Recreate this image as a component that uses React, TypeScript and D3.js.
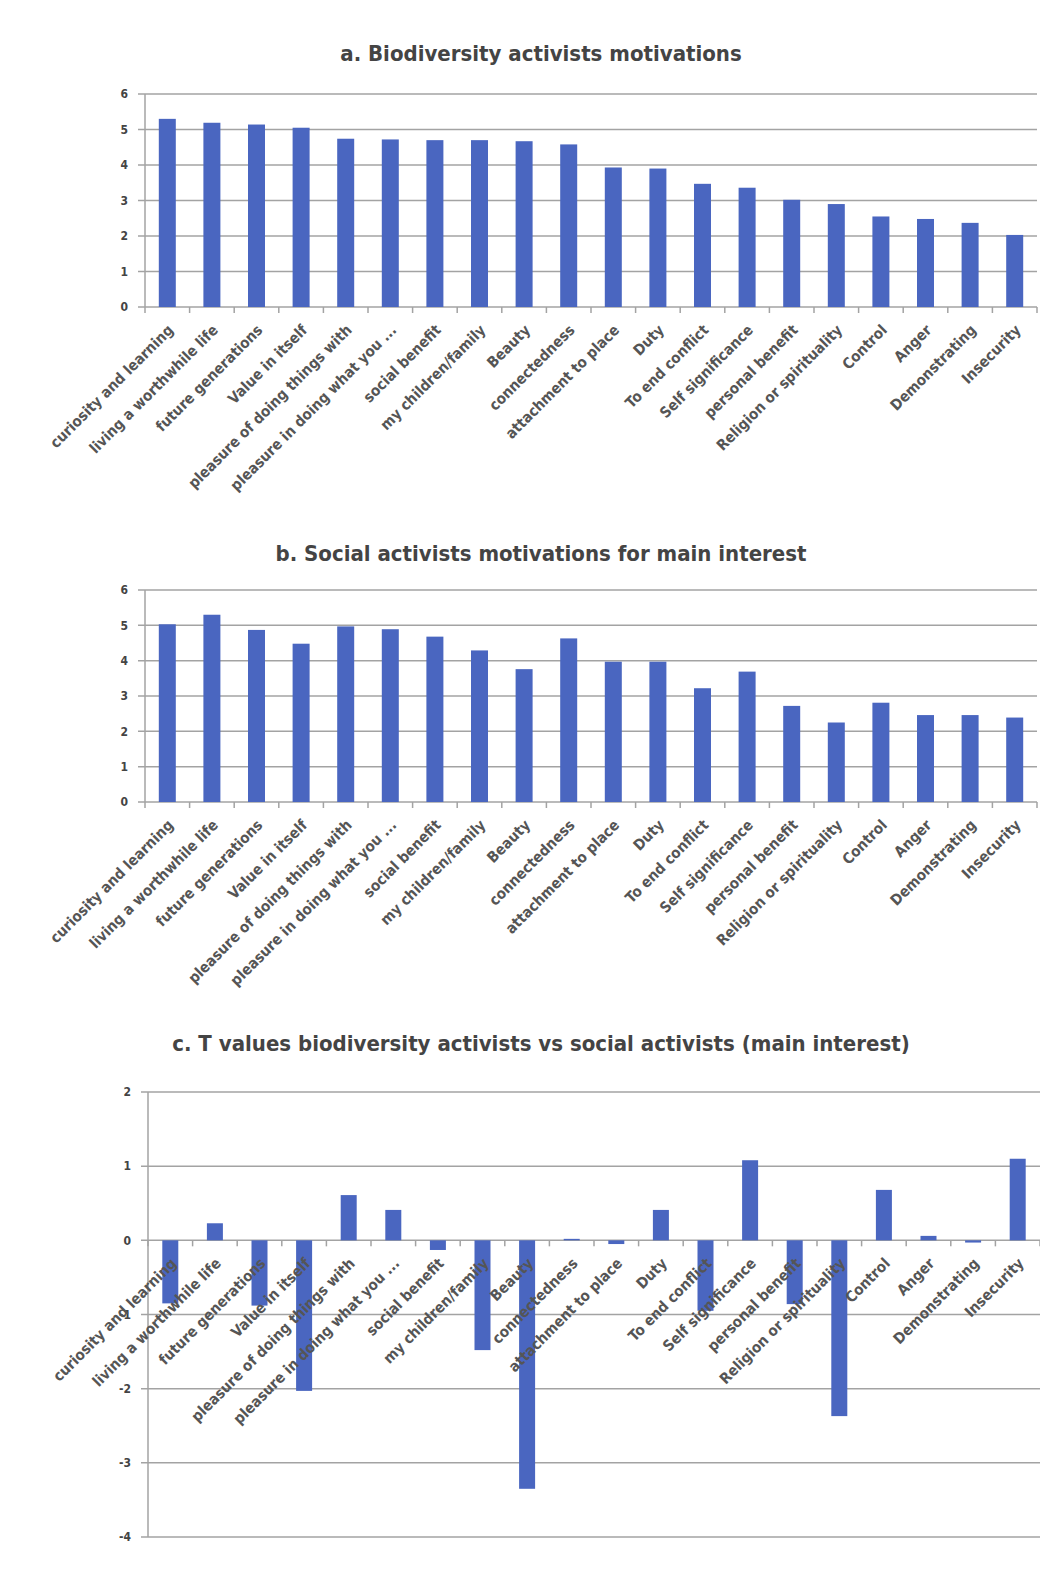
import * as d3 from "d3";
import { useEffect, useRef } from "react";

const categories = [
    "curiosity and learning",
    "living a worthwhile life",
    "future generations",
    "Value in itself",
    "pleasure of doing things with",
    "pleasure in doing what you ...",
    "social benefit",
    "my children/family",
    "Beauty",
    "connectedness",
    "attachment to place",
    "Duty",
    "To end conflict",
    "Self significance",
    "personal benefit",
    "Religion or spirituality",
    "Control",
    "Anger",
    "Demonstrating",
    "Insecurity",
];

// a. Biodiversity activists motivations
const biodiversityValues = [5.30, 5.19, 5.14, 5.05, 4.74, 4.72, 4.70, 4.70, 4.67, 4.58, 3.93, 3.90, 3.47, 3.36, 3.02, 2.90, 2.55, 2.48, 2.37, 2.03];
// b. Social activists motivations for main interest
const socialValues = [5.03, 5.30, 4.87, 4.48, 4.97, 4.89, 4.68, 4.29, 3.76, 4.63, 3.97, 3.97, 3.22, 3.69, 2.72, 2.25, 2.81, 2.46, 2.46, 2.39];
// c. T values biodiversity vs social
const tValues = [-0.85, 0.23, -0.88, -2.03, 0.61, 0.41, -0.13, -1.48, -3.35, 0.02, -0.05, 0.41, -0.95, 1.08, -0.86, -2.37, 0.68, 0.06, -0.03, 1.10];

const motivationTicks = [0, 1, 2, 3, 4, 5, 6];
const tTicks = [-4, -3, -2, -1, 0, 1, 2];

const titles = [
    "a. Biodiversity activists motivations",
    "b. Social activists motivations for main interest",
    "c. T values biodiversity activists vs social activists (main interest)",
];

const barColor = "#4a66c0";
const gridColor = "#a3a3a3";
const textColor = "#555555";
const narrowFont = '"Liberation Sans Narrow", "DejaVu Sans Condensed", "Liberation Sans", sans-serif';

type Panel = {
    title: string,
    titleY: number,
    values: number[],
    ticks: number[],
    top: number,
    bottom: number,
    left: number,
    right: number,
    barWidth: number,
}

function drawPanel(svg: d3.Selection<SVGSVGElement, unknown, null, undefined>, p: Panel) {
    const g = svg.append("g");
    const plotWidth = 892;

    const xScale = d3.scaleBand<string>().domain(categories).range([p.left, p.left + plotWidth]).padding(0);
    const yScale = d3.scaleLinear()
        .domain([d3.min(p.ticks)!, d3.max(p.ticks)!])
        .range([p.bottom, p.top]);
    const zeroY = yScale(0);

    // title
    g.append("text")
        .attr("x", 541)
        .attr("y", p.titleY)
        .attr("text-anchor", "middle")
        .style("font-family", narrowFont)
        .style("font-weight", "bold")
        .style("font-size", "22px")
        .style("fill", "#444")
        .text(p.title);

    // gridlines
    g.selectAll(".grid")
        .data(p.ticks)
        .enter()
        .append("line")
        .attr("x1", p.left - 7)
        .attr("x2", p.right)
        .attr("y1", d => yScale(d))
        .attr("y2", d => yScale(d))
        .style("stroke", gridColor)
        .style("stroke-width", 1.5);

    // y tick labels
    g.selectAll(".ylab")
        .data(p.ticks)
        .enter()
        .append("text")
        .attr("x", p.left - 17)
        .attr("y", d => yScale(d))
        .attr("dy", "0.35em")
        .attr("text-anchor", "end")
        .style("font-family", narrowFont)
        .style("font-weight", "bold")
        .style("font-size", "12px")
        .style("fill", "#444")
        .text(d => d);

    // y axis line
    g.append("line")
        .attr("x1", p.left)
        .attr("x2", p.left)
        .attr("y1", yScale(d3.max(p.ticks)!))
        .attr("y2", yScale(d3.min(p.ticks)!))
        .style("stroke", gridColor)
        .style("stroke-width", 1.5);

    // bars
    const step = xScale.bandwidth();
    g.selectAll(".bar")
        .data(p.values)
        .enter()
        .append("rect")
        .attr("x", (d, i) => xScale(categories[i])! + (step - p.barWidth) / 2)
        .attr("width", p.barWidth)
        .attr("y", d => Math.min(yScale(d), zeroY))
        .attr("height", d => Math.abs(yScale(d) - zeroY))
        .style("fill", barColor);

    // category boundary ticks
    const boundaries = categories.map(c => xScale(c)!).concat([p.left + plotWidth]);
    g.selectAll(".xtick")
        .data(boundaries)
        .enter()
        .append("line")
        .attr("x1", d => d)
        .attr("x2", d => d)
        .attr("y1", zeroY)
        .attr("y2", zeroY + 6)
        .style("stroke", gridColor)
        .style("stroke-width", 1.5);

    // category labels
    g.selectAll(".xlab")
        .data(categories)
        .enter()
        .append("text")
        .attr("text-anchor", "end")
        .attr("transform", c => "translate(" + (xScale(c)! + step / 2 + 7) + "," + (zeroY + 24) + ")rotate(-45)")
        .style("font-family", narrowFont)
        .style("font-weight", "bold")
        .style("font-size", "15px")
        .style("fill", textColor)
        .text(c => c);
}

export default function App() {
    const svgRef = useRef<SVGSVGElement>(null);

    useEffect(() => {
        document.body.style.margin = "0";
        const svg = d3.select(svgRef.current!);
        svg.selectAll("*").remove();

        svg.append("rect").attr("width", 1040).attr("height", 1582).style("fill", "#fff");

        drawPanel(svg, { title: titles[0], titleY: 61, values: biodiversityValues, ticks: motivationTicks, top: 94, bottom: 307, left: 145, right: 1037, barWidth: 17 });
        drawPanel(svg, { title: titles[1], titleY: 561, values: socialValues, ticks: motivationTicks, top: 590, bottom: 802, left: 145, right: 1037, barWidth: 17 });
        drawPanel(svg, { title: titles[2], titleY: 1051, values: tValues, ticks: tTicks, top: 1092, bottom: 1537, left: 148, right: 1040, barWidth: 16 });
    }, []);

    return (
        <svg ref={svgRef} width={1040} height={1582} style={{ display: "block" }}></svg>
    );
}
